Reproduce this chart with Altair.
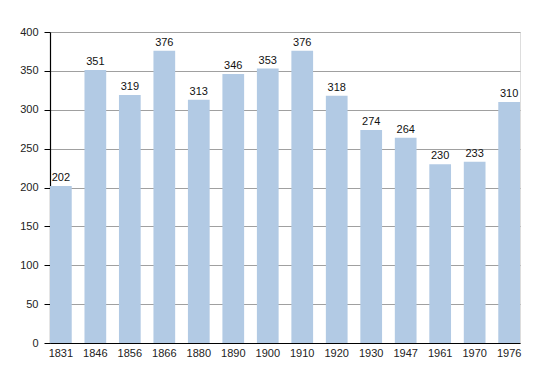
import altair as alt
import pandas as pd

years = ["1831", "1846", "1856", "1866", "1880", "1890", "1900", "1910", "1920", "1930", "1947", "1961", "1970", "1976"]
population = [202, 351, 319, 376, 313, 346, 353, 376, 318, 274, 264, 230, 233, 310]
y_ticks = list(range(0, 401, 25))

df = pd.DataFrame({"year": years, "pop": population})

x = alt.X("year:N", sort=None, title=None,
          scale=alt.Scale(paddingInner=0.37, paddingOuter=0),
          axis=alt.Axis(labelAngle=0, ticks=False, domainColor="#000", domainWidth=1.2,
                        labelFont="Liberation Sans", labelFontSize=11, labelColor="#222",
                        labelPadding=4, grid=False))
y = alt.Y("pop:Q", title=None,
          scale=alt.Scale(domain=[0, 400], nice=False, zero=True),
          axis=alt.Axis(values=y_ticks, labelOverlap=False, tickCount=16,
                        labelExpr="datum.value % 50 === 0 ? datum.label : ''",
                        gridColor={"condition": {"test": "datum.value % 50 === 0", "value": "#a0a0a0"}, "value": "#dadada"},
                        tickSize={"condition": {"test": "datum.value % 50 === 0", "value": 6}, "value": 3},
                        tickColor="#000", domainColor="#000", domainWidth=1.2,
                        labelFont="Liberation Sans", labelFontSize=11, labelColor="#222",
                        labelPadding=6))

base = alt.Chart(df).encode(x=x, y=y)
bars = base.mark_bar(color="#b2cae4")
text = base.mark_text(dy=-8, font="Liberation Sans", fontSize=11, color="#111").encode(text="pop:Q")

chart = (bars + text).properties(
    width=470, height=311,
    autosize=alt.AutoSizeParams(type="none"),
    padding={"left": 42, "top": 24, "right": 20, "bottom": 20},
).configure_view(strokeWidth=0).configure(background="white")

chart.save("out.html", embed_options={"renderer": "svg", "actions": False})
